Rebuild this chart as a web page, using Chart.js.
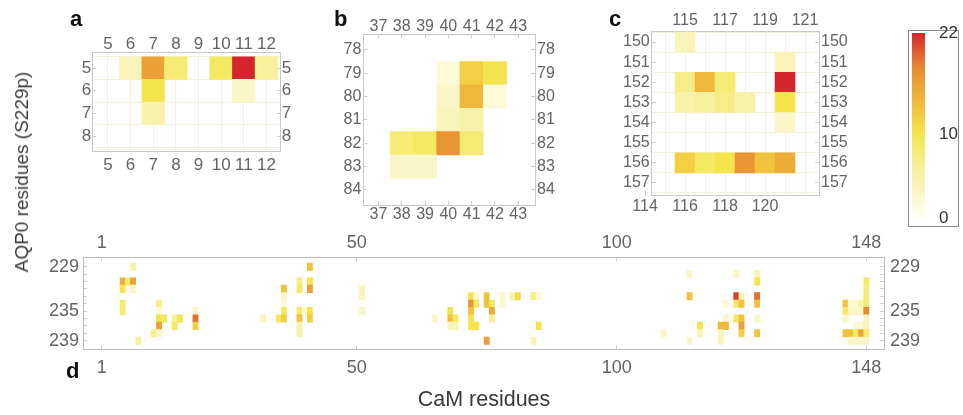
<!DOCTYPE html>
<html><head><meta charset="utf-8">
<script src="https://cdn.jsdelivr.net/npm/chart.js@4.4.0/dist/chart.umd.min.js"></script>
<style>
html,body{margin:0;padding:0;background:#fff;}
#wrap{position:relative;width:963px;height:415px;overflow:hidden;font-family:"Liberation Sans",Arial,sans-serif;}
#wrap canvas{position:absolute;left:0;top:0;}
.pl{position:absolute;font-weight:bold;font-size:22px;line-height:22px;color:#111;}
.ttl{position:absolute;color:#3a3a3a;white-space:nowrap;}
#cbbox{position:absolute;left:908px;top:30px;width:51px;height:197px;border:1px solid #8a8a8a;box-sizing:border-box;}
</style></head><body>
<div id="wrap">
  <div id="cbbox"></div>
  <canvas id="ca" width="963" height="415"></canvas>
  <canvas id="cb" width="963" height="415"></canvas>
  <canvas id="cc" width="963" height="415"></canvas>
  <canvas id="cd" width="963" height="415"></canvas>
  <canvas id="ccb" width="963" height="415"></canvas>
  <div class="pl" style="left:70px;top:8px;">a</div>
  <div class="pl" style="left:334px;top:8px;">b</div>
  <div class="pl" style="left:609px;top:8px;">c</div>
  <div class="pl" style="left:66px;top:360px;">d</div>
  <div class="ttl" style="left:22px;top:172px;font-size:19px;transform:translate(-50%,-50%) rotate(-90deg);">AQP0 residues (S229p)</div>
  <div class="ttl" style="left:484px;top:399px;font-size:21.5px;transform:translate(-50%,-50%);">CaM residues</div>
</div>
<script>
// ---------- data ----------
const aCols = [5,6,7,8,9,10,11,12];
const aRows = [5,6,7,8];
const aValues = [
  [0,4,16,8,0,9,22,6],
  [0,0,10,0,0,0,3,0],
  [0,0,5,0,0,0,0,0],
  [0,0,0,0,0,0,0,0]
];
const bCols = [37,38,39,40,41,42,43];
const bRows = [78,79,80,81,82,83,84];
const bValues = [
  [0,0,0,0,0,0,0],
  [0,0,0,2,12,10,0],
  [0,0,0,3,14,2,0],
  [0,0,0,4,5,0,0],
  [0,8,9,17,8,0,0],
  [0,3,3,0,0,0,0],
  [0,0,0,0,0,0,0]
];
const cCols = [114,115,116,117,118,119,120,121];
const cRows = [150,151,152,153,154,155,156,157];
const cValues = [
  [0,4,0,0,0,0,0,0],
  [0,0,0,0,0,0,4,0],
  [0,7,14,8,0,0,22,0],
  [0,5,6,7,5,0,10,0],
  [0,0,0,0,0,0,3,0],
  [0,0,0,0,0,0,0,0],
  [0,12,9,10,17,13,15,0],
  [0,0,0,0,0,0,0,0]
];
// panel d: per AQP0 residue, [CaM residue, count]
const d229 = [[7,5],[41,13]];
const d230 = [[114,3],[123,3],[127,4]];
const d231 = [[5,15],[6,9],[7,16],[39,7],[41,10],[127,10],[148,9]];
const d232 = [[5,10],[7,3],[36,13],[39,9],[41,16],[51,4],[148,8]];
const d233 = [[36,3],[51,4],[72,10],[73,2],[75,13],[78,3],[80,5],[81,11],[84,7],[85,2],[114,13],[123,21],[124,4],[127,19],[148,8]];
const d234 = [[5,8],[12,7],[36,2],[72,17],[73,9],[75,13],[76,9],[78,3],[121,2],[123,9],[124,13],[127,13],[144,13],[145,2],[146,2],[147,5],[148,8]];
const d235 = [[5,8],[12,2],[19,3],[36,9],[39,9],[40,2],[41,10],[51,3],[68,10],[72,13],[76,15],[144,9],[145,3],[146,3],[147,3],[148,18]];
const d236 = [[12,10],[13,9],[15,6],[16,10],[19,19],[32,4],[35,9],[36,12],[39,13],[41,12],[65,3],[68,13],[69,9],[72,10],[76,6],[121,3],[123,9],[124,13],[127,3],[144,3],[148,4]];
const d237 = [[12,16],[15,9],[19,12],[39,5],[68,4],[69,4],[72,10],[73,10],[85,10],[116,10],[120,14],[121,14],[124,16],[146,2],[147,2],[148,4]];
const d238 = [[11,7],[12,3],[39,5],[109,3],[116,4],[120,4],[124,12],[127,13],[144,13],[145,13],[146,9],[147,16],[148,8]];
const d239 = [[8,6],[75,16],[84,4],[114,3],[120,4],[145,3],[146,3],[147,3],[148,3]];
const dRows = [229,230,231,232,233,234,235,236,237,238,239];
const dByRow = [d229,d230,d231,d232,d233,d234,d235,d236,d237,d238,d239];

// tick labels
const aXTicks = aCols, aYTicks = aRows;
const bXTicks = bCols, bYTicks = bRows;
const cXTopTicks = [115,117,119,121];
const cXBottomLabels = [114,116,118,120];
const cXBottomAt = [113,115,117,119];   // where the reference prints them
const cYTicks = cRows;
const dXTicks = [1,50,100,148];
const dYLabels = [229,235,239];
const cbTicks = [0,10,22];
const cbMax = 22;

// ---------- colour map ----------
const stops = [[0,[255,255,244]],[3,[250,246,200]],[6,[247,240,156]],[10,[244,229,78]],[14,[239,184,58]],[18,[231,137,51]],[22,[212,38,44]]];
function rgb(c){return 'rgb('+c.map(Math.round).join(',')+')';}
function heatColor(v){
  if (v <= stops[0][0]) return rgb(stops[0][1]);
  for (let i=1;i<stops.length;i++){
    if (v <= stops[i][0]){
      const [v0,c0]=stops[i-1],[v1,c1]=stops[i];
      const t=(v-v0)/(v1-v0);
      return rgb(c0.map((x,k)=>x+(c1[k]-x)*t));
    }
  }
  return rgb(stops[stops.length-1][1]);
}

const FONT = "'Liberation Sans', Arial, sans-serif";
const TICKC = '#646464';
Chart.defaults.font.family = FONT;

function matrixCells(cols, rows, vals){
  const out=[];
  rows.forEach((r,i)=>cols.forEach((c,j)=>{ if (vals[i][j]>0) out.push({x:c,y:[r-0.5,r+0.5],v:vals[i][j]}); }));
  return out;
}
function half(a,b){const o=[];for(let v=a;v<=b+1e-9;v+=1)o.push(v);return o;}
const setT = (arr) => (s) => { s.ticks = arr.map(v => ({value:v})); };

function makeHeat(id, cells, o){
  const W=963,H=415,AXW=40,AXH=25,TL=-4;   // negative tick length: tick marks point inward
  const font={family:FONT,size:o.fs,lineHeight:1.2};
  const tk=(pad,labels,show)=>({autoSkip:false,maxRotation:0,minRotation:0,padding:pad-TL,font:font,color:TICKC,
    callback:(v,i)=> labels ? String(labels[i]) : (show && show.indexOf(v)<0 ? '' : String(v))});
  const bd={display:true,color:o.bc||'#c8c8c8',width:1};
  const gr={display:true,drawOnChartArea:false,drawTicks:true,tickLength:TL,tickColor:'#cdcdcd',offset:false};
  const scales={
    x:{type:'linear',position:'bottom',min:o.xr[0],max:o.xr[1],offset:false,grid:gr,border:bd,
       ticks:tk(o.pad.b,o.xBotLabels),afterBuildTicks:setT(o.xBot),afterFit:s=>{s.height=AXH;}},
    x2:{type:'linear',position:'top',min:o.xr[0],max:o.xr[1],offset:false,grid:gr,border:bd,
       ticks:tk(o.pad.t),afterBuildTicks:setT(o.xTop),afterFit:s=>{s.height=AXH;}},
    y:{type:'linear',position:'left',reverse:true,min:o.yr[0],max:o.yr[1],offset:false,grid:gr,border:bd,
       ticks:tk(o.pad.l,null,o.yShow),afterBuildTicks:setT(o.yL),afterFit:s=>{s.width=AXW;}},
    y2:{type:'linear',position:'right',reverse:true,min:o.yr[0],max:o.yr[1],offset:false,grid:gr,border:bd,
       ticks:tk(o.pad.r,null,o.yShow),afterBuildTicks:setT(o.yR),afterFit:s=>{s.width=AXW;}}
  };
  if (o.grid){
    const gg={display:true,drawOnChartArea:true,drawTicks:false,color:'#f4f2da',lineWidth:1};
    scales.gx={type:'linear',position:'bottom',min:o.xr[0],max:o.xr[1],offset:false,grid:gg,border:{display:false},
      ticks:{display:false},afterBuildTicks:setT(o.grid[0]),afterFit:s=>{s.height=0;}};
    scales.gy={type:'linear',position:'left',reverse:true,min:o.yr[0],max:o.yr[1],offset:false,grid:gg,border:{display:false},
      ticks:{display:false},afterBuildTicks:setT(o.grid[1]),afterFit:s=>{s.width=0;}};
  }
  return new Chart(document.getElementById(id),{
    type:'bar',
    data:{datasets:[{data:cells,xAxisID:'x',yAxisID:'y',
      backgroundColor:(ctx)=>ctx.raw?heatColor(ctx.raw.v):'#fff',
      borderWidth:0,barPercentage:1,categoryPercentage:1,grouped:false}]},
    options:{responsive:false,animation:false,devicePixelRatio:1,
      plugins:{legend:{display:false},tooltip:{enabled:false}},
      layout:{padding:{left:o.box.l-AXW,right:W-o.box.r-AXW,top:o.box.t-AXH,bottom:H-o.box.b-AXH}},
      scales:scales}
  });
}

// panel a
makeHeat('ca', matrixCells(aCols,aRows,aValues), {
  box:{l:92.3,r:280.7,t:52.7,b:151}, xr:[4.31,12.63], yr:[4.32,8.66],
  xTop:aXTicks, xBot:aXTicks, yL:aYTicks, yR:aYTicks, fs:17, pad:{t:-1.5,b:4,l:1,r:1},
  grid:[half(4.5,12.5),half(4.5,8.5)]
});
// panel b
makeHeat('cb', matrixCells(bCols,bRows,bValues), {
  box:{l:363.3,r:535,t:34.3,b:205}, xr:[36.35,43.72], yr:[77.33,84.65],
  xTop:bXTicks, xBot:bXTicks, yL:bYTicks, yR:bYTicks, fs:16, pad:{t:-2,b:0,l:2,r:2}
});
// panel c
makeHeat('cc', matrixCells(cCols,cRows,cValues), {
  box:{l:651.7,r:819,t:31,b:195}, xr:[113.33,121.7], yr:[149.45,157.6],
  xTop:cXTopTicks, xBot:cXBottomAt, xBotLabels:cXBottomLabels, yL:cYTicks, yR:cYTicks, fs:16, pad:{t:1,b:2,l:2,r:2},
  grid:[half(113.5,121.5),half(149.5,157.5)]
});
// panel d
const dCells=[];
dRows.forEach((r,i)=>dByRow[i].forEach(([c,v])=>dCells.push({x:c,y:[r-0.5,r+0.5],v:v})));
makeHeat('cd', dCells, {
  box:{l:83,r:884,t:257.3,b:349.5}, xr:[-2.63,151.4], yr:[227.73,240.19],
  xTop:dXTicks, xBot:dXTicks, yL:dRows, yR:dRows, yShow:dYLabels, fs:18, pad:{t:3.5,b:7.5,l:4,r:6}, bc:'#bdbdbd'
});

// colour bar
new Chart(document.getElementById('ccb'),{
  type:'bar',
  data:{labels:[''],datasets:[{data:[cbMax],borderWidth:0,barPercentage:1,categoryPercentage:1,
    backgroundColor:(ctx)=>{const ch=ctx.chart,a=ch.chartArea;if(!a)return null;
      const g=ch.ctx.createLinearGradient(0,a.bottom,0,a.top);
      stops.forEach(([v,c])=>g.addColorStop(v/cbMax,rgb(c)));return g;}}]},
  options:{responsive:false,animation:false,devicePixelRatio:1,
    plugins:{legend:{display:false},tooltip:{enabled:false}},
    layout:{padding:{left:912,right:963-925-35,top:33,bottom:415-218}},
    scales:{
      x:{display:false},
      y:{position:'right',min:0,max:cbMax,afterBuildTicks:setT(cbTicks),
        grid:{display:false},border:{display:false},
        ticks:{padding:6,font:{family:FONT,size:17},color:'#333',callback:v=>String(v)},
        afterFit:s=>{s.width=35;}}
    }}
});
</script>
</body></html>
